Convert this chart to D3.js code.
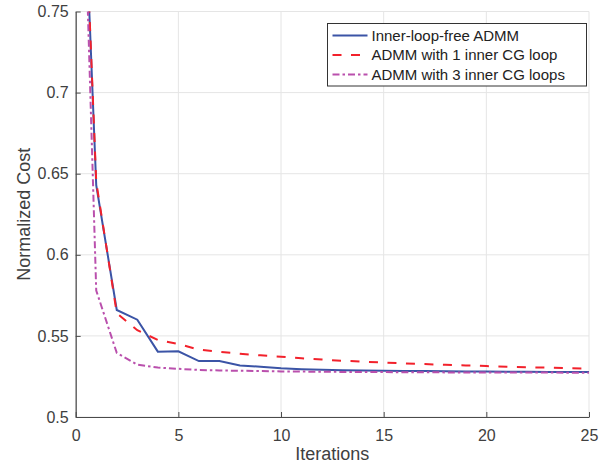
<!DOCTYPE html>
<html>
<head>
<meta charset="utf-8">
<script src="https://cdn.jsdelivr.net/npm/d3@7"></script>
<style>
  body { margin: 0; background: #fff; }
  text { font-family: "Liberation Sans", Arial, Helvetica, sans-serif; fill: #404040; }
</style>
</head>
<body>
<svg width="612" height="466"></svg>
<script>
// iterations 0..25
const iterations = [0,1,2,3,4,5,6,7,8,9,10,11,12,13,14,15,16,17,18,19,20,21,22,23,24,25];
const innerLoopFree = [0.96,0.643,0.566,0.560,0.5403,0.5405,0.5345,0.5345,0.5318,0.5310,0.5300,0.5295,0.5291,0.5288,0.5286,0.5285,0.5284,0.5283,0.5282,0.5281,0.5280,0.5279,0.5279,0.5278,0.5278,0.5278];
const oneInnerCG = [0.96,0.645,0.564,0.5535,0.5475,0.5450,0.5415,0.5402,0.5390,0.5380,0.5372,0.5362,0.5354,0.5347,0.5341,0.5336,0.5331,0.5326,0.5322,0.5318,0.5314,0.5310,0.5307,0.5304,0.5301,0.5299];
const threeInnerCG = [1.0,0.578,0.5395,0.5323,0.5305,0.5297,0.5290,0.5287,0.5285,0.5283,0.5281,0.5280,0.5279,0.5278,0.5277,0.5277,0.5276,0.5276,0.5275,0.5275,0.5275,0.5274,0.5274,0.5274,0.5273,0.5273];
const seriesNames = ['Inner-loop-free ADMM','ADMM with 1 inner CG loop','ADMM with 3 inner CG loops'];
const xTicks = [0,5,10,15,20,25];
const yTicks = [0.5,0.55,0.6,0.65,0.7,0.75];

const styles = [
    {color: '#3b54a6', dash: null},
    {color: '#f2212b', dash: '9,9.5'},
    {color: '#ba50ad', dash: '7,3,2.5,3'}
];

var svg = d3.select('svg');
var pL = 75.7, pR = 589, pT = 11.5, pB = 417;

var x = d3.scaleLinear().domain([0, 25]).range([pL, pR]);
var y = d3.scaleLinear().domain([0.5, 0.75]).range([pB, pT]);

// grid
svg.append('g').selectAll('line').data(xTicks).enter().append('line')
    .attr('x1', d => x(d)).attr('x2', d => x(d))
    .attr('y1', pT).attr('y2', pB)
    .attr('stroke', '#e5e5e5').attr('stroke-width', 1);
svg.append('g').selectAll('line').data(yTicks).enter().append('line')
    .attr('x1', pL).attr('x2', pR)
    .attr('y1', d => y(d)).attr('y2', d => y(d))
    .attr('stroke', '#e5e5e5').attr('stroke-width', 1);

// axes (ticks inward)
var xAxis = svg.append('g')
    .attr('transform', 'translate(0,' + pB + ')')
    .call(d3.axisBottom(x).tickValues(xTicks).tickSizeInner(-5).tickSizeOuter(0).tickPadding(13).tickFormat(d3.format('d')));
var yAxis = svg.append('g')
    .attr('transform', 'translate(' + pL + ',0)')
    .call(d3.axisLeft(y).tickValues(yTicks).tickSizeInner(-5).tickSizeOuter(0).tickPadding(7).tickFormat(d => String(+d.toFixed(2))));
[xAxis, yAxis].forEach(function(a) {
    a.select('.domain').attr('stroke', '#4a4a4a').attr('stroke-width', 1.2);
    a.selectAll('.tick line').attr('stroke', '#4a4a4a');
    a.selectAll('.tick text').attr('font-size', '16px').style('fill', '#404040')
        .attr('font-family', '"Liberation Sans", Arial, sans-serif');
});

// lines
svg.append('clipPath').attr('id', 'clip').append('rect')
    .attr('x', pL).attr('y', pT).attr('width', pR - pL).attr('height', pB - pT);

var allSeries = [innerLoopFree, oneInnerCG, threeInnerCG];
var line = d3.line().x((d, i) => x(iterations[i])).y(d => y(d));
var lines = svg.append('g').attr('clip-path', 'url(#clip)');
allSeries.forEach(function(s, k) {
    lines.append('path')
        .datum(s)
        .attr('d', line)
        .attr('fill', 'none')
        .attr('stroke', styles[k].color)
        .attr('stroke-width', 2)
        .attr('stroke-dasharray', styles[k].dash);
});

// axis labels
svg.append('text')
    .attr('x', (pL + pR) / 2).attr('y', 460)
    .attr('text-anchor', 'middle').attr('font-size', '18px')
    .text('Iterations');
svg.append('text')
    .attr('transform', 'translate(30,' + (pT + pB) / 2 + ') rotate(-90)')
    .attr('text-anchor', 'middle').attr('font-size', '18px')
    .text('Normalized Cost');

// legend
var legend = svg.append('g');
legend.append('rect')
    .attr('x', 327.5).attr('y', 23.5).attr('width', 259).attr('height', 62.5)
    .attr('fill', '#fff').attr('stroke', '#333').attr('stroke-width', 1);
seriesNames.forEach(function(name, k) {
    var ly = 35.5 + k * 19.5;
    legend.append('line')
        .attr('x1', 332.5).attr('x2', 367.5).attr('y1', ly).attr('y2', ly)
        .attr('stroke', styles[k].color).attr('stroke-width', 2)
        .attr('stroke-dasharray', styles[k].dash);
    legend.append('text')
        .attr('x', 371.5).attr('y', ly).attr('dy', '0.36em')
        .attr('font-size', '15px').style('fill', '#222')
        .text(name);
});
</script>
</body>
</html>
